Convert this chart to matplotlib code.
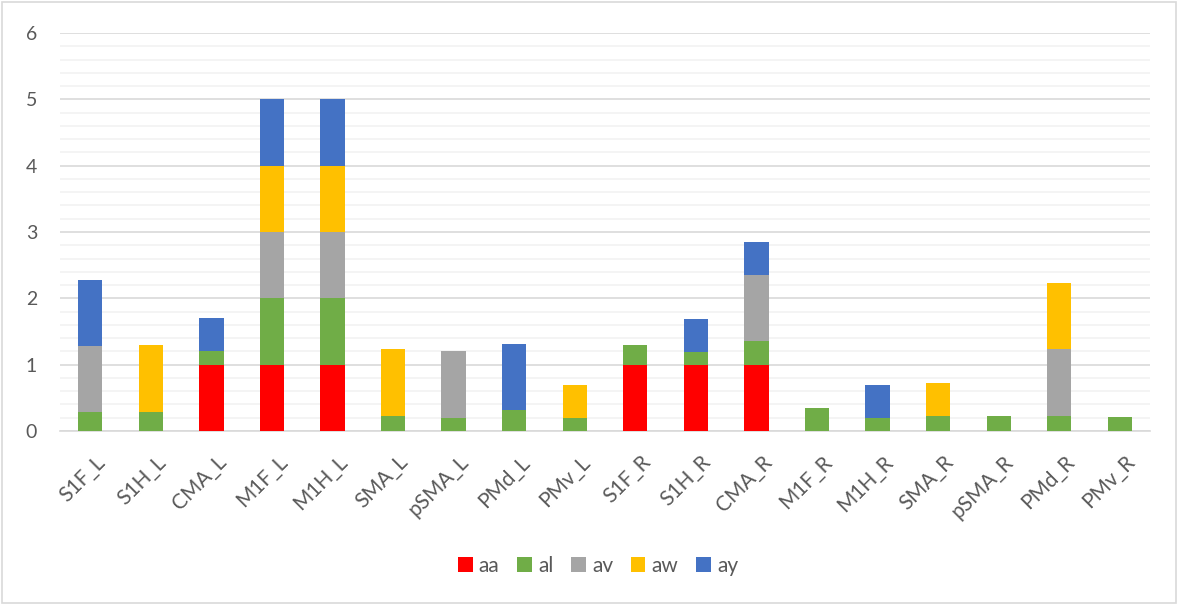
import numpy as np
import matplotlib.pyplot as plt
import matplotlib.transforms as mtransforms
from matplotlib.ticker import MultipleLocator

plt.rcParams['font.family'] = ['Lato', 'DejaVu Sans']

regions = ["S1F_L", "S1H_L", "CMA_L", "M1F_L", "M1H_L", "SMA_L", "pSMA_L", "PMd_L", "PMv_L",
           "S1F_R", "S1H_R", "CMA_R", "M1F_R", "M1H_R", "SMA_R", "pSMA_R", "PMd_R", "PMv_R"]

aa = [0, 0, 1, 1, 1, 0, 0, 0, 0, 1, 1, 1, 0, 0, 0, 0, 0, 0]
al = [0.28, 0.29, 0.21, 1, 1, 0.23, 0.2, 0.31, 0.2, 0.3, 0.19, 0.35, 0.34, 0.2, 0.23, 0.23, 0.23, 0.21]
av = [1, 0, 0, 1, 1, 0, 1, 0, 0, 0, 0, 1, 0, 0, 0, 0, 1, 0]
aw = [0, 1, 0, 1, 1, 1, 0, 0, 0.5, 0, 0, 0, 0, 0, 0.5, 0, 1, 0]
ay = [1, 0, 0.5, 1, 1, 0, 0, 1, 0, 0, 0.5, 0.5, 0, 0.5, 0, 0, 0, 0]

series = [("aa", aa, "#FF0000"), ("al", al, "#70AD47"), ("av", av, "#A5A5A5"),
          ("aw", aw, "#FFC000"), ("ay", ay, "#4472C4")]

fig = plt.figure(figsize=(11.8, 6.05), dpi=100)
ax = fig.add_axes([60 / 1180, 1 - 431 / 605, 1090 / 1180, 398 / 605])

x = np.arange(len(regions))
bottom = np.zeros(len(regions))
for name, vals, color in series:
    vals = np.array(vals, dtype=float)
    ax.bar(x, vals, 0.4, bottom=bottom, color=color, label=name, zorder=3)
    bottom += vals

ax.set_xlim(-0.5, len(regions) - 0.5)
ax.set_ylim(0, 6)
ax.yaxis.set_major_locator(MultipleLocator(1))
ax.yaxis.set_minor_locator(MultipleLocator(0.2))
ax.grid(which='major', axis='y', color='#D9D9D9', linewidth=1.2, zorder=0)
ax.grid(which='minor', axis='y', color='#F2F2F2', linewidth=1.2, zorder=0)
for s in ['top', 'right', 'left']:
    ax.spines[s].set_visible(False)
ax.spines['bottom'].set_color('#D9D9D9')
ax.spines['bottom'].set_linewidth(1.2)
ax.tick_params(which='both', length=0)
ax.tick_params(axis='y', labelsize=14, labelcolor='#595959', pad=16.5)
ax.set_xticks(x)
ax.set_xticklabels(regions, rotation=45, ha='right', rotation_mode='anchor',
                   fontsize=15, color='#595959')
ax.tick_params(axis='x', pad=15)
shift = mtransforms.ScaledTranslation(5 / 100, 0, fig.dpi_scale_trans)
for lbl in ax.get_xticklabels():
    lbl.set_transform(lbl.get_transform() + shift)

ax.legend(loc='center', bbox_to_anchor=(598 / 1180, 1 - 566 / 605), bbox_transform=fig.transFigure,
          ncol=5, frameon=False, fontsize=15, handlelength=0.7, handleheight=0.7,
          handletextpad=0.3, columnspacing=0.85, labelcolor='#595959')

# light frame around the whole chart
fig.patches.append(plt.Rectangle((0.002, 0.003), 0.995, 0.994, transform=fig.transFigure,
                                 fill=False, edgecolor='#D9D9D9', linewidth=1.2))

fig.savefig('out.png', dpi=100)
